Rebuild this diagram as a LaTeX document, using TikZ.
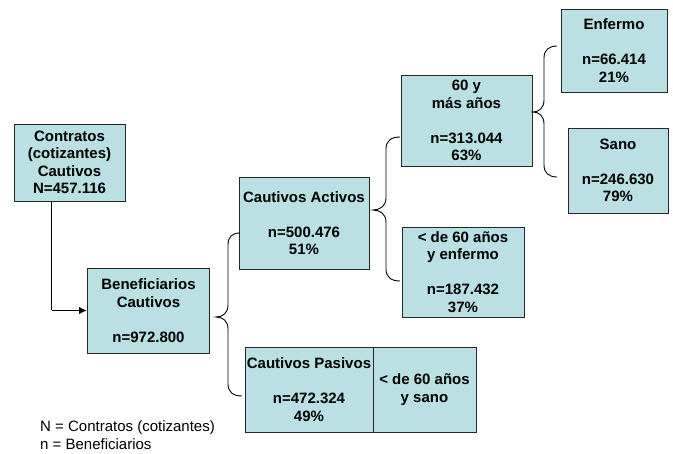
\documentclass[tikz,border=0pt]{standalone}
\usepackage{fontspec}
\setmainfont{Liberation Sans}
\usetikzlibrary{arrows.meta,calc}
\definecolor{boxfill}{RGB}{186,224,227}
\begin{document}
\begin{tikzpicture}[x=1pt,y=-1pt,
  box/.style={draw=black!85,line width=0.9pt,fill=boxfill,rectangle,inner sep=1pt,
    align=center,font=\fontsize{15}{17.5}\selectfont\bfseries},
  brace/.style={draw=black,line width=0.9pt},
  legend/.style={anchor=base west,inner sep=0pt,font=\fontsize{15}{17.5}\selectfont}]
\useasboundingbox[fill=white] (0,0) rectangle (673,454);
% boxes
\node[box,minimum width=111,minimum height=77] (con) at (69.5,162.5)
  {Contratos\\(cotizantes)\\Cautivos\\N=457.116};
\node[box,minimum width=122,minimum height=85] (ben) at (148.5,310.5)
  {Beneficiarios\\Cautivos\\~\\n=972.800};
\node[box,minimum width=130,minimum height=92] (act) at (304,223)
  {Cautivos Activos\\~\\n=500.476\\51\%};
\node[box,minimum width=131,minimum height=91] (mas) at (466.5,120.5)
  {60 y\\más años\\~\\n=313.044\\63\%};
\node[box,minimum width=122,minimum height=90] (men) at (463,272)
  {< de 60 años\\y enfermo\\~\\n=187.432\\37\%};
\node[box,minimum width=106,minimum height=83] (enf) at (614,50.5)
  {Enfermo\\~\\n=66.414\\21\%};
\node[box,minimum width=100,minimum height=85] (san) at (618,170.5)
  {Sano\\~\\n=246.630\\79\%};
\node[box,minimum width=128,minimum height=85] (pas) at (309,389.5)
  {Cautivos Pasivos\\~\\n=472.324\\49\%};
\node[box,minimum width=103,minimum height=85] (pss) at (424.5,389.5)
  {< de 60 años\\y sano};
% arrow
\coordinate (astart) at ($(con.south west)+(38,0)$);
\coordinate (acorner) at (astart |- ben.west);
\draw[line width=1.1pt] (astart) -- ([yshift=0.9pt]acorner);
\draw[line width=1.9pt,-{Latex[length=8pt,width=7.5pt]}] (acorner) -- (ben.west);
% brace 1
\coordinate (b1tip) at (216,317);
\coordinate (b1top) at (240,233);
\coordinate (b1bot) at (242,396);
\draw[brace] (b1top) .. controls (232,233) and (228,237) .. (228,245) -- (228,305)
  .. controls (228,313) and (223,317) .. (b1tip)
  .. controls (223,317) and (228,321) .. (228,329) -- (228,384)
  .. controls (228,392) and (233,396) .. (b1bot);
% brace 2
\coordinate (b2tip) at (373,210);
\coordinate (b2top) at (400,137);
\coordinate (b2bot) at (400,281);
\draw[brace] (b2top) .. controls (391,137) and (386,141) .. (386,149) -- (386,198)
  .. controls (386,206) and (380,210) .. (b2tip)
  .. controls (380,210) and (386,214) .. (386,222) -- (386,269)
  .. controls (386,277) and (391,281) .. (b2bot);
% brace 3
\coordinate (b3tip) at (533,112);
\coordinate (b3top) at (557,46);
\coordinate (b3bot) at (557,177);
\draw[brace] (b3top) .. controls (549,46) and (544,50) .. (544,58) -- (544,100)
  .. controls (544,108) and (539,112) .. (b3tip)
  .. controls (539,112) and (544,116) .. (544,124) -- (544,165)
  .. controls (544,173) and (549,177) .. (b3bot);
% legend
\node[legend] (l1) at (40,432) {N = Contratos (cotizantes)};
\node[legend] (l2) at (40,450) {n = Beneficiarios};
\end{tikzpicture}
\end{document}
